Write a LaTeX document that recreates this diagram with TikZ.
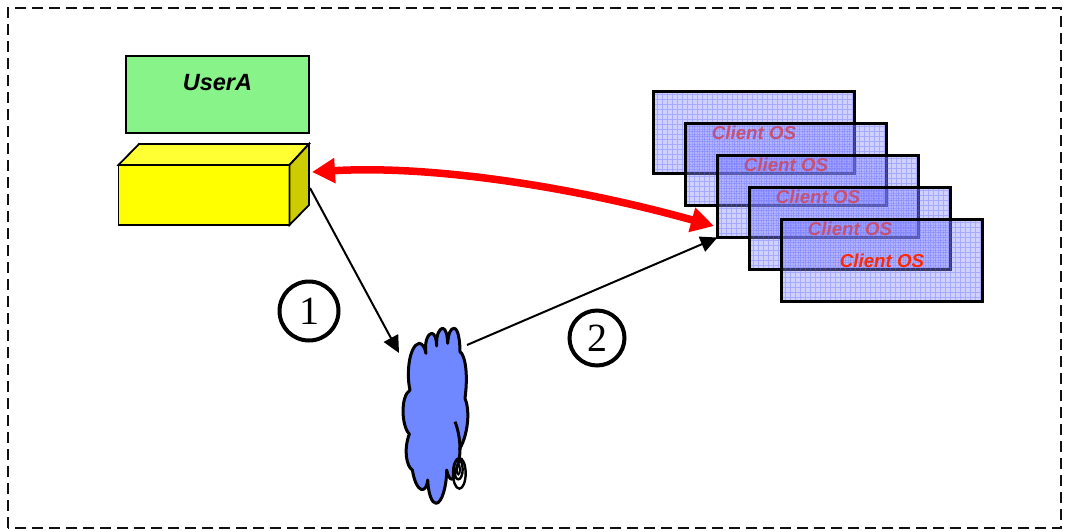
\documentclass[tikz,border=0pt]{standalone}
\usepackage{fontspec}
\setmainfont{Liberation Sans}
\newfontfamily\serifnum{Liberation Serif}
\usetikzlibrary{arrows.meta}
\definecolor{frameblack}{HTML}{111111}
\definecolor{usergreen}{HTML}{88F388}
\definecolor{cloudblue}{HTML}{7088FF}
\definecolor{clientfill}{RGB}{140,140,255}
\definecolor{gridblue}{RGB}{90,100,255}
\definecolor{labelred}{RGB}{255,40,0}
\definecolor{boxfront}{RGB}{255,255,0}
\definecolor{boxtop}{RGB}{255,255,51}
\definecolor{boxside}{RGB}{204,204,0}
\definecolor{arrowred}{RGB}{255,0,0}
\tikzset{
  x=1pt,y=-1pt,
  every node/.style={outer sep=0pt,inner sep=0pt},
  frameline/.style={line width=2.2pt,draw=frameblack,dash pattern=on 11pt off 6pt},
  face/.style={draw=black,line width=1.8pt,line join=miter},
  userbox/.style={draw=black,line width=2.8pt,fill=usergreen,minimum width=183pt,minimum height=77pt},
  clientbox/.style={draw=black,line width=3pt,fill=clientfill,fill opacity=.4,text opacity=1,draw opacity=1,
    minimum width=201pt,minimum height=82pt,text=labelred,font=\bfseries\itshape\fontsize{18.7pt}{20pt}\selectfont,
    path picture={\draw[gridblue,line width=.8pt,draw opacity=.35] (path picture bounding box.south west) grid[step=5pt] (path picture bounding box.north east);}},
  numcircle/.style={circle,draw=black,line width=4pt,fill=white,font=\serifnum\fontsize{40pt}{42pt}\selectfont},
  thinarrow/.style={draw=black,line width=2pt,-{Triangle[length=17pt,width=16pt]}},
  redarrow/.style={draw=arrowred,line width=7.5pt,{Triangle[length=23pt,width=24pt]}-{Triangle[length=23pt,width=24pt]}},
}
\begin{document}
\begin{tikzpicture}
\useasboundingbox (0,0) rectangle (1065,530);
\draw[frameline] (8,528) -- (8,8) -- (1061,8) -- (1061,528) -- cycle;
% user
\node[userbox,font=\bfseries\itshape\fontsize{23.5pt}{25pt}\selectfont] (user) at (217.5,94.5) {\raisebox{24pt}{UserA}};
% yellow box
\node[face,fill=boxfront,minimum width=171pt,minimum height=60pt] (box) at (204,195) {};
\filldraw[face,fill=boxtop] (box.north west) -- (139,144) -- (309,144) -- (box.north east) -- cycle;
\filldraw[face,fill=boxside] (box.north east) -- (309,144) -- (309,205) -- (box.south east) -- cycle;
\coordinate (boxexit) at (310,188);
\coordinate (boxport) at (312,172);
% clients
\node[clientbox] (c1) at (754,132.5) {Client OS};
\node[clientbox] (c2) at (786,164.5) {Client OS};
\node[clientbox] (c3) at (818,196.5) {Client OS};
\node[clientbox] (c4) at (850,228.5) {Client OS};
\node[clientbox] (c5) at (882,260.5) {Client OS};
\coordinate (c3port) at (714,226);
% cloud
\begin{scope}[shift={(380,310)},xscale=1/3,yscale=1/3]
\filldraw[draw=black,line width=3pt,fill=cloudblue,line join=round]
 (90,240) .. controls (78,190) and (88,105) .. (118,100)
 .. controls (128,100) and (135,115) .. (138,130)
 .. controls (132,95) and (145,70) .. (155,70)
 .. controls (165,70) and (170,90) .. (170,108)
 .. controls (168,75) and (178,55) .. (188,55)
 .. controls (198,55) and (203,80) .. (203,100)
 .. controls (205,70) and (212,55) .. (222,55)
 .. controls (235,55) and (240,95) .. (240,125)
 .. controls (255,135) and (265,190) .. (255,265)
 .. controls (270,300) and (265,370) .. (240,415)
 .. controls (240,450) and (232,470) .. (225,490)
 .. controls (225,510) and (208,520) .. (200,480)
 .. controls (200,530) and (185,580) .. (168,580)
 .. controls (155,580) and (145,550) .. (143,510)
 .. controls (140,550) and (110,555) .. (97,480)
 .. controls (80,470) and (70,420) .. (88,372)
 .. controls (65,350) and (60,260) .. (90,240) -- cycle;
\draw[black,line width=3pt] (225,335) .. controls (235,360) and (240,390) .. (240,420);
\draw[black,line width=2.4pt] (238,490) ellipse [x radius=19,y radius=46];
\draw[black,line width=2.4pt] (235,478) ellipse [x radius=13,y radius=30];
\draw[black,line width=2pt] (235,478) ellipse [x radius=5,y radius=15];
\end{scope}
\coordinate (cloudin) at (399,353);
\coordinate (cloudout) at (467,345);
% connectors
\draw[thinarrow] (boxexit) -- (cloudin);
\draw[thinarrow] (cloudout) -- (c3.south west);
\draw[redarrow] (boxport) .. controls (430,165) and (570,186) .. (c3port);
% numbers
\node[numcircle,minimum size=59pt] (n1) at (309,311) {1};
\node[numcircle,minimum size=55pt] (n2) at (597,338) {2};
\end{tikzpicture}
\end{document}
